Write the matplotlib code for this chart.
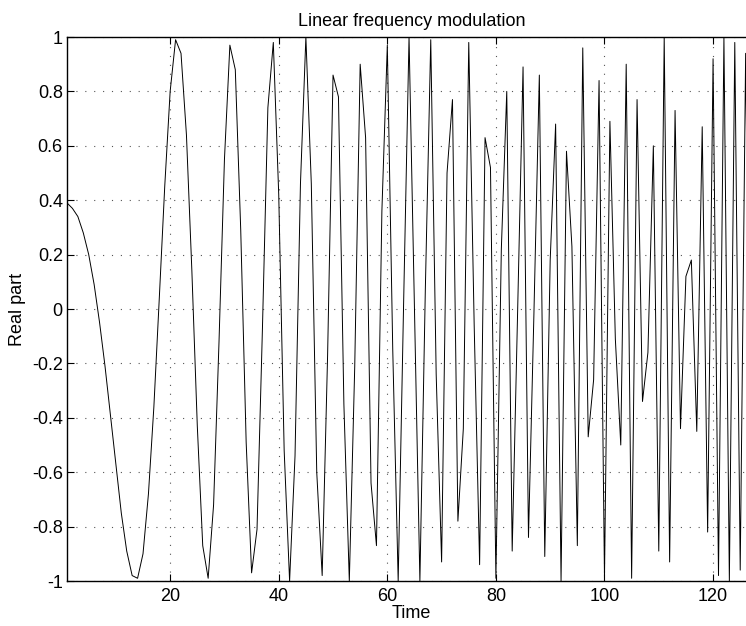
import matplotlib
matplotlib.use("Agg")
import matplotlib.pyplot as plt

plt.rcParams['font.family'] = ['Liberation Sans', 'DejaVu Sans']
plt.rcParams['axes.unicode_minus'] = False

time = list(range(1, 129))
real_part = [
    0.39, 0.37, 0.34, 0.28, 0.20, 0.09, -0.05, -0.21, -0.39, -0.57,
    -0.75, -0.89, -0.98, -0.99, -0.90, -0.68, -0.36, 0.04, 0.45, 0.80,
    0.99, 0.94, 0.64, 0.14, -0.43, -0.87, -0.99, -0.72, -0.12, 0.55,
    0.97, 0.88, 0.29, -0.49, -0.97, -0.81, -0.07, 0.74, 0.98, 0.42,
    -0.52, -1.00, -0.54, 0.46, 1.00, 0.46, -0.60, -0.98, -0.17, 0.86,
    0.78, -0.35, -1.00, -0.21, 0.90, 0.63, -0.64, -0.87, 0.36, 0.97,
    -0.15, -1.00, 0.02, 1.00, 0.00, -1.00, 0.07, 0.99, -0.24, -0.93,
    0.50, 0.77, -0.78, -0.44, 0.98, -0.06, -0.94, 0.63, 0.52, -0.99,
    0.22, 0.80, -0.89, -0.01, 0.89, -0.84, -0.02, 0.86, -0.91, 0.18,
    0.68, -1.00, 0.58, 0.23, -0.87, 0.96, -0.47, -0.26, 0.84, -0.99,
    0.69, -0.11, -0.50, 0.90, -0.99, 0.77, -0.34, -0.16, 0.60, -0.89,
    1.00, -0.93, 0.73, -0.44, 0.12, 0.18, -0.45, 0.67, -0.82, 0.92,
    -0.98, 1.00, -1.00, 0.98, -0.96, 0.94, -0.93, 0.92,
]
xticks = [20, 40, 60, 80, 100, 120]
yticks = [-1, -0.8, -0.6, -0.4, -0.2, 0, 0.2, 0.4, 0.6, 0.8, 1]
ytick_labels = ["-1", "-0.8", "-0.6", "-0.4", "-0.2", "0", "0.2", "0.4", "0.6", "0.8", "1"]

fig = plt.figure(figsize=(7.46, 6.26), dpi=100)
ax = fig.add_axes([67 / 746, 45 / 626, (756.5 - 67) / 746, 544 / 626])
ax.plot(time, real_part, color='black', linewidth=0.7)
ax.set_xlim(1, 128)
ax.set_ylim(-1, 1)
ax.set_xticks(xticks)
ax.set_xticklabels([str(v) for v in xticks])
ax.set_yticks(yticks)
ax.set_yticklabels(ytick_labels)
ax.grid(True, color='#555555', linestyle=(0, (1, 7)), linewidth=0.8)
ax.tick_params(direction='in', top=True, right=True, length=5, width=0.8,
               labelsize=13, pad=3)
ax.tick_params(axis='x', pad=5)
for s in ax.spines.values():
    s.set_linewidth(1.0)
ax.set_title("Linear frequency modulation", fontsize=13, pad=8)
ax.set_xlabel("Time", fontsize=13, labelpad=0)
ax.set_ylabel("Real part", fontsize=13, labelpad=4)

fig.savefig("out.png", dpi=100)
